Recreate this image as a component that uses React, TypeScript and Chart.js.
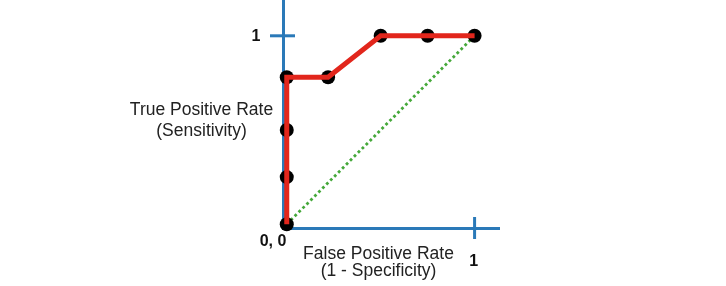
import React, { useEffect, useRef } from "react";
import { Chart, registerables } from "chart.js";

Chart.register(...registerables);

// ROC curve points (false positive rate, true positive rate)
const fpr = [0, 0, 0, 0, 0.22, 0.5, 0.75, 1];
const tpr = [0, 0.25, 0.5, 0.78, 0.78, 1, 1, 1];

// Reference diagonal (random classifier)
const diagX = [0, 1];
const diagY = [0, 1];

const yTitleLines = ["True Positive Rate", "(Sensitivity)"];
const xTitleLines = ["False Positive Rate", "(1 - Specificity)"];
const originLabel = "0, 0";
const oneLabel = "1";

const AXIS_BLUE = "#2a79b8";
const CURVE_RED = "#e2261c";
const DIAG_GREEN = "#45a83a";
const TEXT_FONT = '"Liberation Sans", Arial, sans-serif';

const rocAnnotations = {
  id: "rocAnnotations",
  beforeDatasetsDraw(chart: any) {
    const { ctx, chartArea, scales } = chart;
    const xs = scales.x;
    const ys = scales.y;
    ctx.save();
    ctx.strokeStyle = AXIS_BLUE;
    ctx.lineWidth = 3;
    // tick across the y axis at 1
    const y1 = ys.getPixelForValue(1);
    ctx.beginPath();
    ctx.moveTo(chartArea.left - 13, y1);
    ctx.lineTo(chartArea.left + 12, y1);
    ctx.stroke();
    // tick across the x axis at 1
    const x1 = xs.getPixelForValue(1);
    ctx.beginPath();
    ctx.moveTo(x1, chartArea.bottom - 11);
    ctx.lineTo(x1, chartArea.bottom + 11);
    ctx.stroke();
    ctx.restore();
  },
  afterDraw(chart: any) {
    const { ctx, chartArea, scales } = chart;
    const xs = scales.x;
    const ys = scales.y;
    ctx.save();
    ctx.fillStyle = "#111";
    ctx.textAlign = "center";
    ctx.textBaseline = "middle";
    ctx.font = `bold 16px ${TEXT_FONT}`;
    ctx.fillText(oneLabel, chartArea.left - 27, ys.getPixelForValue(1) + 1);
    ctx.fillText(originLabel, chartArea.left - 10, chartArea.bottom + 14);
    ctx.fillText(oneLabel, xs.getPixelForValue(1) - 1, chartArea.bottom + 34);

    ctx.fillStyle = "#222";
    ctx.textBaseline = "alphabetic";
    ctx.font = `17.5px ${TEXT_FONT}`;
    yTitleLines.forEach((t, i) => ctx.fillText(t, 201.5, 114.5 + i * 21));
    xTitleLines.forEach((t, i) =>
      ctx.fillText(t, 378.5, chartArea.bottom + 30.5 + i * 17)
    );
    ctx.restore();
  },
};

export default function App() {
  const canvasRef = useRef<HTMLCanvasElement | null>(null);

  useEffect(() => {
    if (!canvasRef.current) return;
    const curve = fpr.map((x, i) => ({ x, y: tpr[i] }));
    const diag = diagX.map((x, i) => ({ x, y: diagY[i] }));
    const chart = new Chart(canvasRef.current, {
      type: "scatter",
      data: {
        datasets: [
          {
            label: "ROC",
            data: curve,
            showLine: true,
            borderColor: CURVE_RED,
            borderWidth: 5,
            pointRadius: 0,
            borderJoinStyle: "miter",
            clip: false,
          } as any,
          {
            label: "Thresholds",
            data: curve,
            showLine: false,
            pointRadius: 7,
            pointBackgroundColor: "#000",
            pointBorderWidth: 0,
            clip: false,
          } as any,
          {
            label: "Random",
            data: diag,
            showLine: true,
            borderColor: DIAG_GREEN,
            borderWidth: 2.8,
            borderDash: [2.8, 2.8],
            pointRadius: 0,
            clip: false,
          } as any,
        ],
      },
      options: {
        animation: false,
        responsive: false,
        events: [],
        layout: {
          autoPadding: false,
          padding: { left: 283, right: 227, top: 0, bottom: 58 },
        },
        plugins: {
          legend: { display: false },
          tooltip: { enabled: false },
          title: { display: false },
        },
        scales: {
          x: {
            type: "linear",
            min: -0.02,
            max: 1.13,
            grid: { display: false, drawTicks: false },
            ticks: { display: false },
            border: { display: true, color: AXIS_BLUE, width: 3 },
          },
          y: {
            type: "linear",
            min: -0.02,
            max: 1.19,
            grid: { display: false, drawTicks: false },
            ticks: { display: false },
            border: { display: true, color: AXIS_BLUE, width: 3 },
          },
        },
      },
      plugins: [rocAnnotations],
    } as any);
    return () => chart.destroy();
  }, []);

  return (
    <div
      style={{
        position: "fixed",
        left: 0,
        top: 0,
        width: 726,
        height: 286,
        background: "#fff",
      }}
    >
      <canvas ref={canvasRef} width={726} height={286} />
    </div>
  );
}
